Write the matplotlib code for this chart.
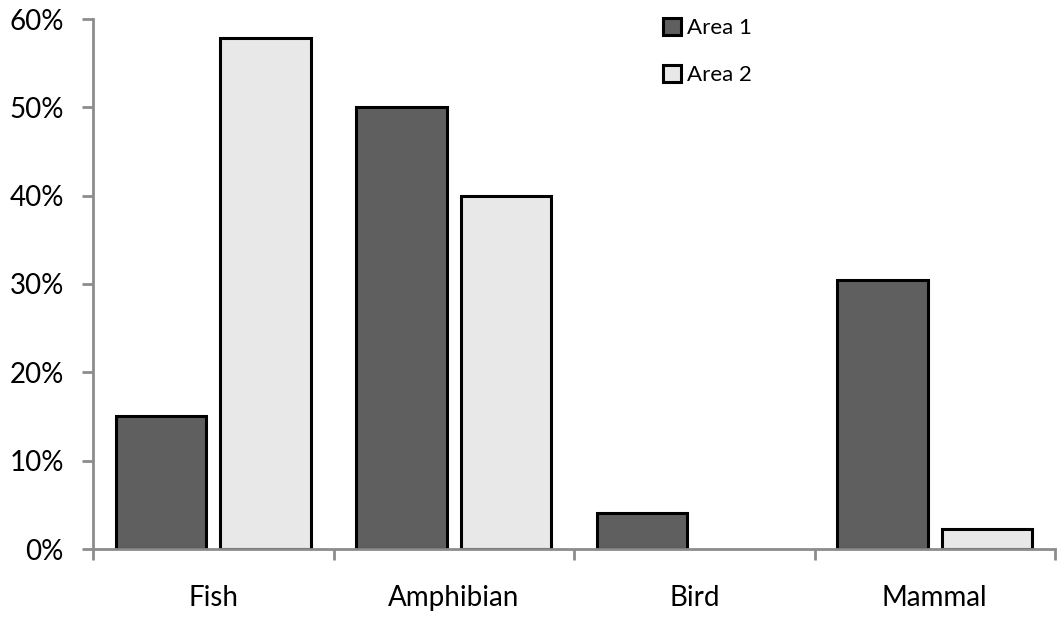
import numpy as np
import matplotlib
matplotlib.use('Agg')
import matplotlib.pyplot as plt
from matplotlib.patches import Patch
from matplotlib.ticker import PercentFormatter

categories = ['Fish', 'Amphibian', 'Bird', 'Mammal']
area1 = [15.1, 50.0, 4.1, 30.5]
area2 = [57.8, 40.0, 0.0, 2.3]
series_names = ['Area 1', 'Area 2']
colors = ['#5f5f5f', '#e8e8e8']

plt.rcParams['font.family'] = ['Lato', 'DejaVu Sans']

fig = plt.figure(figsize=(10.6, 6.2), dpi=100)
ax = fig.add_axes([93/1060, 1-549/620, (1055-93)/1060, (549-19)/620])

x = np.arange(len(categories))
w = 0.375
off = 0.2175
ax.bar(x-off, area1, w, color=colors[0], edgecolor='black', linewidth=2.2)
bars2 = ax.bar(x+off, area2, w, color=colors[1], edgecolor='black', linewidth=2.2)
# zero-height bar gets no outline
for b, v in zip(bars2, area2):
    if v == 0:
        b.set_visible(False)

ax.set_xlim(-0.5, len(categories)-0.5)
ax.set_ylim(0, 60)
ax.set_yticks(np.arange(0, 61, 10))
ax.yaxis.set_major_formatter(PercentFormatter(decimals=0))

# group boundaries get the tick marks, names sit in between
ax.set_xticks(np.arange(-0.5, len(categories), 1.0))
ax.set_xticklabels([])
ax.set_xticks(x, minor=True)
ax.set_xticklabels(categories, minor=True)
ax.tick_params(axis='x', which='minor', length=0, pad=26, labelsize=20)
ax.tick_params(axis='x', which='major', length=8, width=2, color='#8c8c8c', direction='out')
ax.tick_params(axis='y', length=8, width=2, color='#8c8c8c', direction='out', pad=13, labelsize=20)

for s in ['top', 'right']:
    ax.spines[s].set_visible(False)
for s in ['left', 'bottom']:
    ax.spines[s].set_color('#8c8c8c')
    ax.spines[s].set_linewidth(2)

handles = [Patch(facecolor=c, edgecolor='black', linewidth=2.2) for c in colors]
ax.legend(handles, series_names, loc='upper left', bbox_to_anchor=(663/1060, 1-18/620),
          bbox_transform=fig.transFigure, frameon=False, fontsize=16,
          handlelength=0.8, handleheight=0.8, handletextpad=0.3,
          labelspacing=1.2, borderpad=0, borderaxespad=0)

fig.savefig('out.png', dpi=100)
